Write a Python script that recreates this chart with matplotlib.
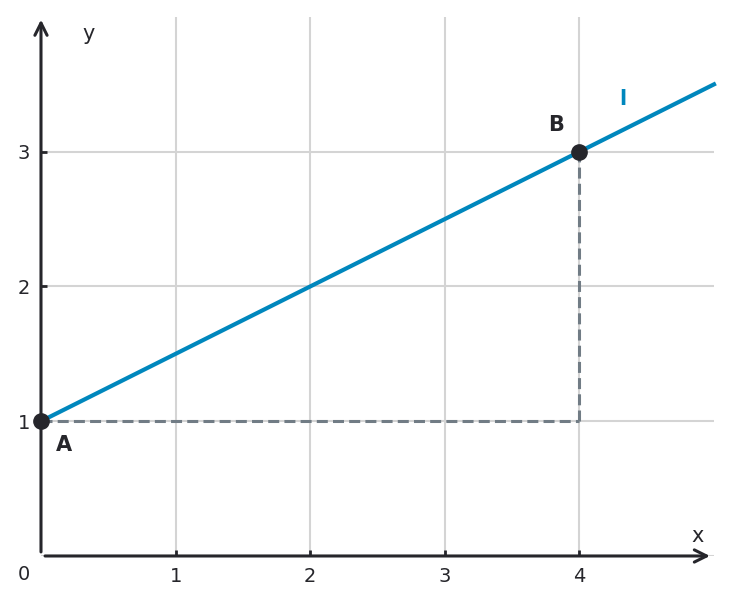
import numpy as np
import matplotlib.pyplot as plt

# line l through A and B, drawn over the full x range
x_line = [0, 5]
y_line = [1, 3.5]
pt_names = ['A', 'B']
pt_x = [0, 4]
pt_y = [1, 3]
x_ticks = [1, 2, 3, 4]
y_ticks = [1, 2, 3]

blue = '#0087bd'
dark = '#26262b'
gray = '#717c85'

fig = plt.figure(figsize=(7.32, 6.04), dpi=100)
ax = fig.add_axes([0.056, 0.0795, 0.9194, 0.8924])
ax.set_xlim(0, 5)
ax.set_ylim(0, 4)
for s in ax.spines.values():
    s.set_visible(False)

ax.set_xticks(x_ticks)
ax.set_yticks(y_ticks)
ax.tick_params(direction='in', length=4, width=2, color=dark, labelsize=14,
               labelcolor=dark, pad=8)
ax.grid(True, color='#d4d4d4', linewidth=1.5, zorder=0)
ax.axhline(0, color='#d4d4d4', linewidth=1.5, zorder=0)

# axes with arrow heads
ax.annotate('', xy=(4.97, 0), xytext=(0.03, 0),
            arrowprops=dict(arrowstyle='->', color=dark, lw=2.2,
                            mutation_scale=22, shrinkA=0, shrinkB=0),
            annotation_clip=False)
ax.annotate('', xy=(0, 3.98), xytext=(0, 0.03),
            arrowprops=dict(arrowstyle='->', color=dark, lw=2.2,
                            mutation_scale=22, shrinkA=0, shrinkB=0),
            annotation_clip=False)
ax.text(4.88, 0.15, 'x', fontsize=15, color=dark, ha='center', va='center')
ax.text(0.35, 3.87, 'y', fontsize=15, color=dark, ha='center', va='center')
ax.text(-0.125, -0.14, '0', fontsize=14, color=dark, ha='center', va='center',
        clip_on=False)

# dashed helper lines
ax.plot([pt_x[0], pt_x[1]], [pt_y[0], pt_y[0]], '--', color=gray, lw=2.2,
        dashes=(3.6, 1.7), zorder=3)
ax.plot([pt_x[1], pt_x[1]], [pt_y[0], pt_y[1]], '--', color=gray, lw=2.2,
        dashes=(3.6, 1.7), zorder=3)

ax.plot(x_line, y_line, color=blue, lw=3, zorder=4, clip_on=False)
ax.plot(pt_x, pt_y, 'o', color=dark, markersize=11, zorder=5, clip_on=False)

ax.text(0.17, 0.82, pt_names[0], fontsize=15, fontweight='bold', color=dark,
        ha='center', va='center')
ax.text(3.83, 3.2, pt_names[1], fontsize=15, fontweight='bold', color=dark,
        ha='center', va='center')
ax.text(4.32, 3.39, 'l', fontsize=15, fontweight='bold', color=blue,
        ha='center', va='center')

fig.savefig('out.png', dpi=100)
